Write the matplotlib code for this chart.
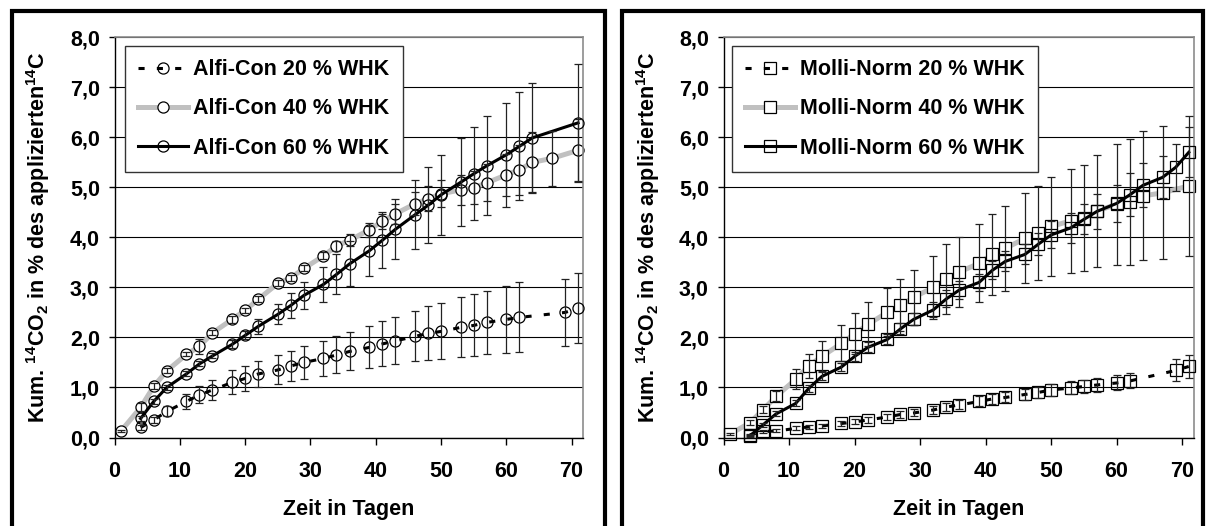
import matplotlib
matplotlib.use("Agg")
import matplotlib.pyplot as plt
from matplotlib.patches import Rectangle
from matplotlib.ticker import FuncFormatter, MultipleLocator

plt.rcParams['font.family'] = ['Liberation Sans', 'DejaVu Sans']
plt.rcParams['font.weight'] = 'bold'
plt.rcParams['mathtext.fontset'] = 'custom'
plt.rcParams['mathtext.rm'] = 'Liberation Sans:bold'
plt.rcParams['mathtext.bf'] = 'Liberation Sans:bold'
plt.rcParams['mathtext.it'] = 'Liberation Sans:bold'

# ---------------- data: left panel (Alfi-Con) ----------------
alfi_20_days = [4, 6, 8, 11, 13, 15, 18, 20, 22, 25, 27, 29, 32, 34, 36, 39, 41, 43,
                46, 48, 50, 53, 55, 57, 60, 62, 69, 71]
alfi_20_vals = [0.20, 0.35, 0.52, 0.72, 0.85, 0.95, 1.10, 1.18, 1.27, 1.35, 1.43, 1.50,
                1.58, 1.65, 1.72, 1.80, 1.87, 1.93, 2.02, 2.08, 2.12, 2.20, 2.24, 2.30,
                2.36, 2.40, 2.50, 2.58]
alfi_20_err = [0.05, 0.06, 0.10, 0.15, 0.17, 0.20, 0.24, 0.25, 0.26, 0.29, 0.30, 0.33,
               0.35, 0.37, 0.38, 0.42, 0.45, 0.47, 0.50, 0.54, 0.56, 0.60, 0.62, 0.63,
               0.67, 0.70, 0.67, 0.70]

alfi_40_days = [1, 4, 6, 8, 11, 13, 15, 18, 20, 22, 25, 27, 29, 32, 34, 36, 39, 41, 43,
                46, 48, 50, 53, 55, 57, 60, 62, 64, 67, 71]
alfi_40_vals = [0.13, 0.60, 1.02, 1.33, 1.66, 1.82, 2.09, 2.36, 2.54, 2.76, 3.08, 3.19,
                3.38, 3.63, 3.83, 3.94, 4.15, 4.32, 4.47, 4.67, 4.77, 4.87, 4.95, 4.99,
                5.09, 5.25, 5.35, 5.50, 5.58, 5.74]
alfi_40_err = [0.02, 0.08, 0.06, 0.05, 0.04, 0.15, 0.05, 0.07, 0.05, 0.06, 0.06, 0.06,
               0.06, 0.07, 0.10, 0.12, 0.14, 0.15, 0.20, 0.23, 0.25, 0.27, 0.30, 0.33,
               0.37, 0.42, 0.50, 0.60, 0.55, 0.63]

alfi_60_days = [4, 6, 8, 11, 13, 15, 18, 20, 22, 25, 27, 29, 32, 34, 36, 39, 41, 43,
                46, 48, 50, 53, 55, 57, 60, 62, 64, 71]
alfi_60_vals = [0.38, 0.72, 1.00, 1.27, 1.47, 1.63, 1.86, 2.04, 2.22, 2.46, 2.64, 2.84,
                3.06, 3.26, 3.47, 3.73, 3.94, 4.16, 4.45, 4.64, 4.85, 5.10, 5.27, 5.43,
                5.65, 5.82, 5.99, 6.29]
alfi_60_err = [0.05, 0.05, 0.05, 0.05, 0.05, 0.05, 0.08, 0.08, 0.15, 0.20, 0.25, 0.27,
               0.35, 0.40, 0.45, 0.50, 0.56, 0.60, 0.69, 0.76, 0.80, 0.88, 0.93, 0.99,
               1.04, 1.08, 1.10, 1.17]

# ---------------- data: right panel (Molli-Norm) ----------------
molli_20_days = [4, 6, 8, 11, 13, 15, 18, 20, 22, 25, 27, 29, 32, 34, 36, 39, 41, 43,
                 46, 48, 50, 53, 55, 57, 60, 62, 69, 71]
molli_20_vals = [0.05, 0.12, 0.13, 0.18, 0.21, 0.23, 0.28, 0.31, 0.35, 0.41, 0.46, 0.49,
                 0.55, 0.61, 0.65, 0.72, 0.77, 0.80, 0.86, 0.90, 0.95, 0.99, 1.02, 1.05,
                 1.09, 1.13, 1.34, 1.42]
molli_20_err = [0.02, 0.03, 0.03, 0.04, 0.04, 0.04, 0.05, 0.05, 0.06, 0.06, 0.07, 0.07,
                0.08, 0.08, 0.09, 0.10, 0.10, 0.10, 0.11, 0.11, 0.12, 0.13, 0.13, 0.14,
                0.15, 0.15, 0.22, 0.23]

molli_40_days = [1, 4, 6, 8, 11, 13, 15, 18, 20, 22, 25, 27, 29, 32, 34, 36, 39, 41, 43,
                 46, 48, 50, 53, 55, 57, 60, 62, 64, 67, 71]
molli_40_vals = [0.07, 0.29, 0.55, 0.82, 1.16, 1.43, 1.62, 1.88, 2.07, 2.26, 2.50, 2.64,
                 2.80, 3.00, 3.16, 3.31, 3.48, 3.66, 3.78, 3.98, 4.09, 4.22, 4.33, 4.39,
                 4.53, 4.66, 4.71, 4.83, 4.89, 5.03]
molli_40_err = [0.02, 0.05, 0.07, 0.10, 0.20, 0.24, 0.30, 0.36, 0.41, 0.44, 0.48, 0.52,
                0.55, 0.63, 0.70, 0.70, 0.78, 0.81, 0.85, 0.90, 0.94, 0.99, 1.04, 1.06,
                1.12, 1.21, 1.26, 1.29, 1.33, 1.40]

molli_60_days = [4, 6, 8, 11, 13, 15, 18, 20, 22, 25, 27, 29, 32, 34, 36, 39, 41, 43,
                 46, 48, 50, 53, 55, 57, 60, 62, 64, 67, 69, 71]
molli_60_vals = [0.03, 0.25, 0.47, 0.68, 0.98, 1.22, 1.41, 1.62, 1.80, 1.96, 2.17, 2.36,
                 2.55, 2.77, 2.95, 3.10, 3.34, 3.52, 3.66, 3.86, 4.05, 4.19, 4.36, 4.52,
                 4.68, 4.85, 5.04, 5.20, 5.40, 5.70]
molli_60_err = [0.02, 0.04, 0.05, 0.06, 0.07, 0.08, 0.08, 0.09, 0.10, 0.10, 0.11, 0.12,
                0.15, 0.17, 0.18, 0.17, 0.18, 0.20, 0.20, 0.22, 0.27, 0.30, 0.30, 0.35,
                0.37, 0.43, 0.44, 0.42, 0.47, 0.50]

alfi_labels = ["Alfi-Con 20 % WHK", "Alfi-Con 40 % WHK", "Alfi-Con 60 % WHK"]
molli_labels = ["Molli-Norm 20 % WHK", "Molli-Norm 40 % WHK", "Molli-Norm 60 % WHK"]
y_label = r"Kum. $^{14}$CO$_{2}$ in % des applizierten$^{14}$C"
x_label = "Zeit in Tagen"

W, H = 1207, 526
fig = plt.figure(figsize=(W / 100, H / 100), dpi=100)

FS = 15.5
ERR_COLOR = '#222222'


def panel(left_px, right_px, legend_left_px, frame_left_px, series, labels, marker):
    top_px, bot_px = 37.3, 437.5
    wpx = right_px - left_px
    ax = fig.add_axes([left_px / W, 1 - bot_px / H, wpx / W, (bot_px - top_px) / H])
    ax.set_xlim(0, 71.8)
    ax.set_ylim(0, 8)
    ax.xaxis.set_major_locator(MultipleLocator(10))
    ax.yaxis.set_major_locator(MultipleLocator(1))
    ax.yaxis.set_major_formatter(FuncFormatter(lambda v, p: f"{v:.1f}".replace('.', ',')))
    for s in ('top', 'right'):
        ax.spines[s].set_color('#8c8c8c')
        ax.spines[s].set_linewidth(1.2)
    for s in ('left', 'bottom'):
        ax.spines[s].set_color('black')
        ax.spines[s].set_linewidth(1.0)
    ax.tick_params(axis='y', direction='out', length=4.5, width=1, pad=6,
                   labelsize=FS)
    ax.tick_params(axis='x', direction='out', length=5, width=1, pad=12,
                   labelsize=FS)
    for t in ax.get_xticklabels() + ax.get_yticklabels():
        t.set_fontweight('bold')
    ax.yaxis.grid(True, color='black', linewidth=0.8)
    ax.set_axisbelow(True)

    styles = [
        dict(color='black', lw=2.2, ls=(0, (2, 4)), mfc='none', z=3),
        dict(color='#c0c0c0', lw=3.6, ls='-', mfc='white', z=2),
        dict(color='black', lw=2.2, ls='-', mfc='none', z=4),
    ]
    handles = []
    for (d, v, e), st, lab in zip(series, styles, labels):
        ln, = ax.plot(d, v, color=st['color'], lw=st['lw'], ls=st['ls'],
                      marker=marker, ms=8, mfc=st['mfc'], mec='black', mew=0.9,
                      zorder=st['z'], label=lab, clip_on=False)
        ax.errorbar(d, v, yerr=e, fmt='none', ecolor=ERR_COLOR, elinewidth=0.9,
                    capsize=3, capthick=0.9, zorder=5, clip_on=False)
        handles.append(ln)

    leg = ax.legend(handles=handles, loc='upper left',
                    bbox_to_anchor=((legend_left_px - left_px) / wpx, 0.979),
                    borderaxespad=0, prop={'weight': 'bold', 'size': FS},
                    handlelength=2.3, handletextpad=0.25, labelspacing=0.85,
                    borderpad=0.62, numpoints=1, fancybox=False, framealpha=1,
                    edgecolor='#333333')
    leg.get_frame().set_linewidth(1.0)
    leg.set_zorder(10)

    ax.set_ylabel(y_label, fontsize=FS, fontweight='bold')
    ax.yaxis.label.set_va('center')
    ax.yaxis.set_label_coords((frame_left_px + 26 - left_px) / wpx, 0.5)
    ax.set_xlabel(x_label, fontsize=FS, fontweight='bold')
    ax.xaxis.label.set_va('center')
    ax.xaxis.set_label_coords(0.5, (bot_px - 509) / (bot_px - top_px))
    return ax


panel(114.5, 583.3, 125, 12,
      [(alfi_20_days, alfi_20_vals, alfi_20_err),
       (alfi_40_days, alfi_40_vals, alfi_40_err),
       (alfi_60_days, alfi_60_vals, alfi_60_err)],
      alfi_labels, 'o')

panel(723.5, 1194, 732, 622,
      [(molli_20_days, molli_20_vals, molli_20_err),
       (molli_40_days, molli_40_vals, molli_40_err),
       (molli_60_days, molli_60_vals, molli_60_err)],
      molli_labels, 's')

# outer frames
for x0, x1 in ((12, 605), (622, 1203)):
    fig.add_artist(Rectangle((x0 / W, -0.2), (x1 - x0) / W, 1 - 11 / H + 0.2,
                             transform=fig.transFigure, fill=False, lw=3,
                             edgecolor='black'))

fig.savefig("out.png", dpi=100)
